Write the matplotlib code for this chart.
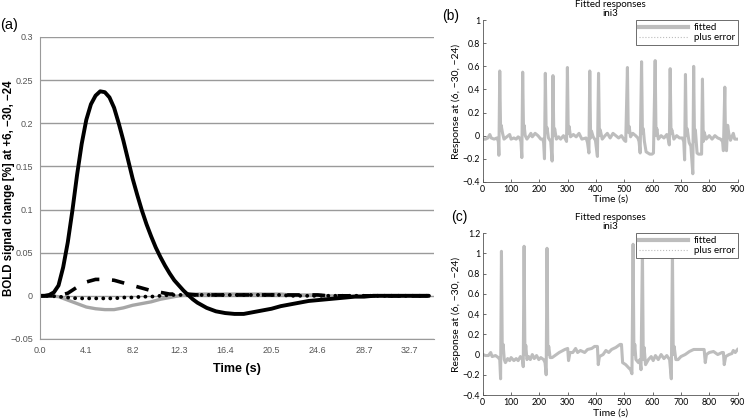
import numpy as np
import matplotlib.pyplot as plt
from matplotlib.lines import Line2D

# ---- panel (a): BOLD responses ----
# main response: 0.41 s steps up to 14.35 s, then 0.82 s steps
t_main = list(np.round(np.arange(36) * 0.41, 2)) + list(np.round(14.76 + np.arange(25) * 0.82, 2))
bold_main = [0, 0, 0.001, 0.004, 0.012, 0.033, 0.062, 0.099, 0.140, 0.176,
             0.204, 0.222, 0.232, 0.237, 0.236, 0.230, 0.218, 0.200, 0.180, 0.158,
             0.136, 0.117, 0.099, 0.083, 0.069, 0.056, 0.045, 0.035, 0.026, 0.018,
             0.012, 0.006, 0.001, -0.004, -0.008, -0.011,
             -0.014, -0.018, -0.020, -0.021, -0.021, -0.019, -0.017, -0.015, -0.012, -0.010,
             -0.008, -0.006, -0.005, -0.004, -0.003, -0.002, -0.001, -0.001, 0, 0,
             0, 0, 0, 0, 0]

# other three responses, 0.82 s steps
t_a = np.round(np.arange(43) * 0.82, 2)
bold_dash = [0, 0, 0, 0.003, 0.010, 0.016, 0.019, 0.019, 0.018, 0.015,
             0.012, 0.009, 0.006, 0.004, 0.002, 0.002, 0.002, 0.001, 0.001, 0.001,
             0.001, 0.001, 0.001, 0.001, 0.001, 0.001, 0.001, 0.001, 0.001, 0.001,
             0.001, 0, 0, 0, 0, 0, 0, 0, 0, 0,
             0, 0, 0]
bold_dot = [0, 0, -0.001, -0.002, -0.003, -0.003, -0.003, -0.003, -0.003, -0.002,
            -0.002, -0.001, -0.001, 0, 0.001, 0.001, 0.001, 0.001, 0.001, 0.001,
            0.001, 0.001, 0.001, 0.001, 0.001, 0.001, 0.001, 0, 0, 0,
            0, 0, 0, 0, 0, 0, 0, 0, 0, 0,
            0, 0, 0]
bold_gray = [0, 0, -0.001, -0.005, -0.009, -0.013, -0.015, -0.016, -0.016, -0.014,
             -0.011, -0.009, -0.007, -0.004, -0.002, 0, 0.001, 0.002, 0.002, 0.002,
             0.002, 0.002, 0.002, 0.002, 0.002, 0.002, 0.002, 0.001, 0.001, 0.001,
             0.001, 0, 0, 0, 0, 0, 0, 0, 0, 0,
             0, 0, 0]
a_ticks = [0, 4.1, 8.2, 12.3, 16.4, 20.5, 24.6, 28.7, 32.7]
a_ticklabels = ['0.0', '4.1', '8.2', '12.3', '16.4', '20.5', '24.6', '28.7', '32.7']

# ---- panel (b): fitted response, ini3 ----
b_time = [0, 10, 18, 25, 30, 40, 50, 55, 57, 60, 63, 65, 70, 75, 85, 95, 100, 110, 118, 125,
          130, 135, 138, 141, 144, 146, 150, 156, 165, 170, 175, 185, 195, 205, 212, 215, 218, 221, 224, 227,
          232, 240, 245, 248, 251, 254, 260, 268, 275, 285, 292, 296, 299, 302, 305, 310, 320, 330, 340, 350,
          365, 370, 375, 378, 381, 384, 390, 398, 405, 409, 412, 415, 422, 432, 440, 450, 460, 470, 480, 490,
          500, 505, 511, 514, 517, 522, 530, 540, 548, 552, 556, 561, 564, 567, 571, 577, 590, 598, 603, 609,
          612, 615, 620, 630, 640, 650, 655, 659, 662, 665, 668, 675, 685, 695, 705, 710, 713, 716, 719, 722,
          729, 735, 742, 745, 748, 751, 757, 762, 768, 773, 776, 779, 782, 789, 800, 810, 820, 830, 840, 847,
          850, 855, 858, 861, 865, 869, 875, 885, 890, 900]
b_resp = [-0.03, -0.03, -0.02, 0.01, -0.02, -0.03, -0.02, -0.05, -0.17, 0.56, 0.05, 0.09, 0.02, -0.03, -0.01, 0.01, -0.03, -0.02, -0.03, -0.01,
          -0.02, -0.05, -0.19, 0.55, 0.05, 0.09, 0.00, -0.03, 0.00, 0.02, -0.01, 0.02, 0.00, -0.03, -0.03, -0.06, -0.20, 0.54, 0.03, 0.07,
          -0.02, -0.05, -0.22, 0.52, 0.00, 0.06, -0.03, -0.01, -0.03, 0.00, -0.03, -0.05, 0.59, 0.02, 0.08, -0.01, 0.01, -0.01, 0.02, -0.03,
          -0.02, -0.06, -0.15, 0.56, -0.02, 0.04, -0.01, -0.04, -0.18, 0.54, 0.00, 0.05, -0.03, 0.00, 0.02, -0.02, 0.02, 0.00, -0.02, 0.00,
          -0.04, -0.05, 0.59, 0.03, 0.08, -0.01, 0.02, 0.00, -0.02, -0.05, -0.15, 0.64, 0.02, 0.06, -0.05, -0.14, -0.16, -0.16, -0.15, 0.65,
          0.00, 0.06, -0.03, 0.00, -0.02, 0.01, -0.03, -0.08, 0.58, 0.02, 0.05, -0.03, 0.00, -0.02, -0.02, -0.05, -0.21, 0.53, 0.00, 0.06,
          -0.06, -0.09, -0.33, 0.60, -0.05, 0.05, -0.15, -0.16, -0.16, -0.16, 0.49, -0.05, 0.03, -0.03, 0.00, -0.03, 0.00, -0.02, -0.03, -0.05,
          -0.13, 0.42, -0.12, -0.13, 0.09, 0.02, -0.04, 0.02, -0.03, -0.03]

# ---- panel (c): fitted response, ini3 ----
c_time = [0, 10, 20, 28, 33, 45, 55, 60, 63, 66, 69, 72, 76, 80, 88, 95, 100, 110, 118, 125,
          133, 140, 143, 146, 149, 152, 156, 162, 168, 175, 182, 190, 198, 205, 215, 220, 224, 227, 230, 233,
          238, 245, 255, 270, 290, 300, 303, 308, 318, 328, 335, 345, 360, 370, 385, 395, 405, 408, 412, 425,
          435, 445, 455, 470, 485, 490, 494, 505, 515, 522, 527, 531, 534, 537, 541, 550, 555, 559, 564, 567,
          570, 575, 585, 595, 602, 610, 620, 630, 640, 650, 660, 666, 670, 673, 676, 682, 690, 700, 715, 730,
          745, 760, 775, 782, 786, 790, 800, 815, 830, 845, 850, 853, 858, 870, 880, 885, 892, 900]
c_resp = [0.00, -0.01, -0.01, 0.02, -0.02, -0.01, -0.03, -0.05, -0.24, 1.02, 0.02, 0.10, -0.05, -0.08, -0.04, -0.06, -0.03, -0.06, -0.04, -0.06,
          -0.02, -0.05, -0.12, 1.07, 0.00, 0.09, -0.05, -0.02, -0.05, 0.00, -0.04, -0.01, -0.05, -0.03, -0.05, -0.08, -0.20, 1.05, 0.00, 0.08,
          -0.03, -0.03, -0.01, 0.02, 0.05, 0.06, -0.06, 0.02, 0.02, 0.06, 0.02, 0.04, 0.02, 0.05, 0.06, 0.08, 0.08, -0.10, -0.02, 0.00,
          0.04, 0.02, 0.05, 0.07, 0.10, 0.10, -0.08, -0.10, -0.13, -0.15, -0.19, 1.09, 0.00, 0.10, -0.05, -0.08, -0.05, -0.15, 1.03, -0.05,
          0.07, -0.10, -0.05, -0.02, -0.06, -0.01, -0.05, 0.00, -0.04, -0.01, -0.05, -0.24, 1.02, 0.00, 0.08, -0.05, -0.05, -0.02, 0.00, 0.03,
          0.05, 0.05, 0.05, 0.05, -0.08, 0.00, 0.02, 0.03, 0.00, 0.02, 0.02, -0.10, -0.02, 0.00, 0.01, 0.04, 0.02, 0.05]

fig = plt.figure(figsize=(7.45, 4.2), dpi=100)

# ---------------- (a) ----------------
ax = fig.add_axes([0.0537, 0.193, 0.529, 0.719])
grid_c = '#9a9a9a'
ax.plot(t_a, bold_gray, color='#a6a6a6', lw=2.4, solid_capstyle='round')
ax.plot(t_a, bold_dot, color='black', lw=2.8, linestyle=(0, (0.01, 1.8)), dash_capstyle='round')
ax.plot(t_a, bold_dash, color='black', lw=2.6, linestyle=(0, (3.5, 3.5)))
ax.plot(t_main, bold_main, color='black', lw=2.8, solid_capstyle='round')
ax.set_xlim(0, 34.9)
ax.set_ylim(-0.05, 0.3)
ax.set_yticks(np.arange(-0.05, 0.31, 0.05))
ax.set_yticklabels(['\u22120.05', '0', '0.05', '0.1', '0.15', '0.2', '0.25', '0.3'])
ax.set_xticks(a_ticks)
ax.set_xticklabels(a_ticklabels)
ax.yaxis.grid(True, color=grid_c, lw=1)
ax.set_axisbelow(True)
for s in ['top', 'right']:
    ax.spines[s].set_visible(False)
for s in ['left', 'bottom']:
    ax.spines[s].set_color(grid_c)
ax.tick_params(length=0, labelsize=6.5, labelcolor='#555555', pad=5)
for lab in ax.get_xticklabels() + ax.get_yticklabels():
    lab.set_family('Liberation Sans')
ax.set_xlabel('Time (s)', fontsize=9, fontweight='bold', family='Liberation Sans', labelpad=6)
ax.set_ylabel('BOLD signal change [%] at +6, \u221230, \u221224', fontsize=8.3, fontweight='bold',
              family='Liberation Sans')
ax.yaxis.set_label_coords(-0.064, 0.5)
fig.text(0.0, 0.94, '(a)', fontsize=10.5, family='Liberation Sans', va='center')


# ---------------- (b), (c) ----------------
def fitted_panel(rect, t, y, ymax, label, label_xy):
    ax = fig.add_axes(rect)
    ax.plot(t, y, color='#bdbdbd', lw=2.2)
    ax.set_xlim(0, 900)
    ax.set_ylim(-0.4, ymax)
    ax.set_xticks(np.arange(0, 901, 100))
    yt = np.round(np.arange(-0.4, ymax + 0.01, 0.2), 1)
    ax.set_yticks(yt)
    ax.set_yticklabels([('%g' % v).replace('-', '\u2212') for v in yt])
    for s in ['top', 'right']:
        ax.spines[s].set_visible(False)
    for s in ['left', 'bottom']:
        ax.spines[s].set_color('#555555')
        ax.spines[s].set_linewidth(0.6)
    ax.tick_params(direction='in', length=2.5, width=0.6, labelsize=6.3, color='#555555', pad=2)
    for lab in ax.get_xticklabels() + ax.get_yticklabels():
        lab.set_family('Lato')
    ax.set_title('Fitted responses\nini3', fontsize=7, family='Lato', pad=3, linespacing=0.95)
    ax.set_xlabel('Time (s)', fontsize=7.5, family='Lato', labelpad=1)
    ax.set_ylabel('Response at (6, \u221230, \u221224)', fontsize=7.5, family='Lato', labelpad=1)
    handles = [Line2D([], [], color='#bdbdbd', lw=3),
               Line2D([], [], color='#bdbdbd', lw=0.8, linestyle=':')]
    leg = ax.legend(handles, ['fitted', 'plus error'], loc='upper right',
                    frameon=True, fancybox=False, borderaxespad=0, handlelength=5,
                    borderpad=0.3, labelspacing=0.1, handletextpad=0.6,
                    prop={'family': 'Lato', 'size': 7})
    leg.get_frame().set_edgecolor('#555555')
    leg.get_frame().set_linewidth(0.6)
    leg.get_frame().set_alpha(1)
    fig.text(label_xy[0], label_xy[1], label, fontsize=10, family='Liberation Sans', va='center')
    return ax


fitted_panel([0.648, 0.567, 0.342, 0.385], b_time, b_resp, 1.0, '(b)', (0.593, 0.963))
fitted_panel([0.648, 0.0595, 0.342, 0.3855], c_time, c_resp, 1.2, '(c)', (0.606, 0.483))

fig.savefig('out.png', dpi=100)
